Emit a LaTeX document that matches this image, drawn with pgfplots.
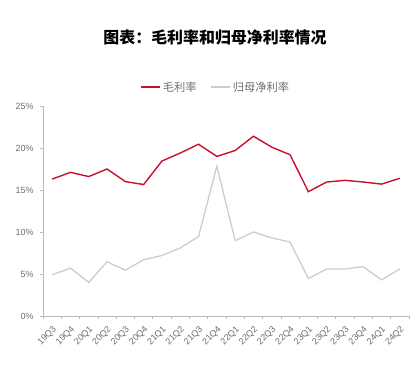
\documentclass[border=0pt]{standalone}
\usepackage{pgfplots}
\pgfplotsset{compat=1.18}
\usepackage{fontspec}
\setmainfont{Liberation Sans}
\newfontfamily\cjk{Noto Sans CJK SC}
\definecolor{myred}{RGB}{200,16,46}
\definecolor{mygray}{RGB}{205,205,205}
\definecolor{txtgray}{RGB}{110,110,110}
\definecolor{axgray}{RGB}{185,185,185}
\begin{document}
\begin{tikzpicture}[x=1bp,y=1bp]
\begin{axis}[
  scale only axis,
  width=366bp, height=210bp,
  xmin=-0.5, xmax=19.5,
  ymin=0, ymax=25,
  axis x line=bottom, axis y line=left,
  axis line style={-, draw=axgray, line width=0.8bp},
  xtick={-0.5,0.5,...,19.5},
  xticklabels=\empty,
  extra x ticks={0,1,...,19},
  extra x tick labels={19Q3,19Q4,20Q1,20Q2,20Q3,20Q4,21Q1,21Q2,21Q3,21Q4,22Q1,22Q2,22Q3,22Q4,23Q1,23Q2,23Q3,23Q4,24Q1,24Q2},
  extra x tick style={major tick length=0pt,
    tick label style={rotate=45, anchor=north east, inner sep=0pt}},
  xticklabel shift=9bp,
  tick align=outside,
  major tick length=3bp,
  tick style={draw=axgray, line width=0.8bp},
  ytick={0,5,10,15,20,25},
  yticklabel={\pgfmathprintnumber{\tick}\%},
  /pgf/number format/assume math mode=true,
  ticklabel style={font=\fontsize{9}{10}\selectfont, text=txtgray},
  y tick label style={xshift=-3bp},
  legend style={at={(0.472,1.09)}, anchor=center, draw=none, fill=none,
    font=\cjk\fontsize{11.3}{13}\selectfont, text=txtgray, legend columns=2,
    /tikz/every even column/.append style={column sep=12bp}},
  legend image code/.code={\draw[#1] (0bp,0bp) -- (19bp,0bp);},
  clip=false,
]
\addplot[myred, line width=1.4bp] coordinates {
(0,16.3) (1,17.1) (2,16.6) (3,17.5) (4,16.0) (5,15.65) (6,18.45) (7,19.4) (8,20.45) (9,19.0)
(10,19.7) (11,21.4) (12,20.1) (13,19.2) (14,14.8) (15,15.95) (16,16.15) (17,15.95) (18,15.7) (19,16.4)};
\addlegendentry{毛利率}
\addplot[mygray, line width=1.3bp] coordinates {
(0,4.9) (1,5.7) (2,4.0) (3,6.45) (4,5.45) (5,6.7) (6,7.2) (7,8.1) (8,9.45) (9,17.85)
(10,8.97) (11,10.0) (12,9.3) (13,8.8) (14,4.45) (15,5.6) (16,5.6) (17,5.87) (18,4.3) (19,5.6)};
\addlegendentry{归母净利率}
\node[font=\cjk\bfseries\fontsize{16}{18}\selectfont, anchor=center] at (rel axis cs:0.47,1.324) {图表：毛利率和归母净利率情况};
\end{axis}
\path (-43bp,-62bp) rectangle ++(416bp,378bp);
\end{tikzpicture}
\end{document}
